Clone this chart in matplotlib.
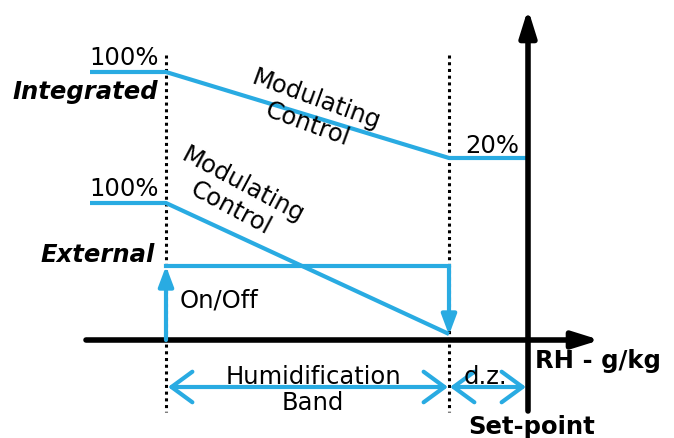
import matplotlib.pyplot as plt

# Diagram breakpoints (pixel space of the original drawing, y grows downward)
band_x = [166, 449]          # humidification band edges
setpoint_x = 528
axis_y = 341

integrated_x = [90, 166, 449, 528]
integrated_y = [73, 73, 159, 159]      # 100% -> 20%

external_x = [90, 166, 449]
external_y = [204, 204, 335]           # 100% -> 0%

onoff_level = 267

blue = "#29abe2"
fs = 17.5
fsb = 17.5

fig = plt.figure(figsize=(6.74, 4.39), dpi=100)
ax = fig.add_axes([0, 0, 1, 1])
ax.set_xlim(0, 674)
ax.set_ylim(439, 0)
ax.axis("off")

# dotted band edges
for x in band_x:
    ax.plot([x, x], [56, 413], color="black", lw=2.2, ls=(0, (1, 1.2)))

# main axes
ax.annotate("", xy=(600, axis_y), xytext=(86, axis_y),
            arrowprops=dict(arrowstyle="-|>,head_length=1.6,head_width=0.5",
                            color="black", lw=4, shrinkA=0, shrinkB=0))
ax.annotate("", xy=(setpoint_x, 10), xytext=(setpoint_x, 412),
            arrowprops=dict(arrowstyle="-|>,head_length=1.6,head_width=0.5",
                            color="black", lw=4, shrinkA=0, shrinkB=0))

# integrated modulating output
ax.plot(integrated_x, integrated_y, color=blue, lw=3, solid_capstyle="butt")
# external modulating output
ax.plot(external_x, external_y, color=blue, lw=3, solid_capstyle="butt")

# external on/off
ax.annotate("", xy=(band_x[0], onoff_level), xytext=(band_x[0], axis_y),
            arrowprops=dict(arrowstyle="-|>,head_length=1.2,head_width=0.45",
                            color=blue, lw=3, shrinkA=0, shrinkB=0))
ax.plot(band_x, [onoff_level, onoff_level], color=blue, lw=3)
ax.annotate("", xy=(band_x[1], 336), xytext=(band_x[1], onoff_level),
            arrowprops=dict(arrowstyle="-|>,head_length=1.2,head_width=0.45",
                            color=blue, lw=3, shrinkA=0, shrinkB=0))

# band / dead zone arrows
ax.annotate("", xy=(band_x[0] + 2, 388), xytext=(band_x[1] - 1, 388),
            arrowprops=dict(arrowstyle="<->,head_length=1.5,head_width=1.1",
                            color=blue, lw=3, shrinkA=0, shrinkB=0))
ax.annotate("", xy=(band_x[1] + 1, 388), xytext=(setpoint_x - 2, 388),
            arrowprops=dict(arrowstyle="<->,head_length=1.5,head_width=1.1",
                            color=blue, lw=3, shrinkA=0, shrinkB=0))

# texts
ax.text(159, 58, "100%", fontsize=fs, ha="right", va="center")
ax.text(158, 92, "Integrated", fontsize=fsb, ha="right", va="center",
        fontweight="bold", fontstyle="italic")
ax.text(312, 112, "Modulating\nControl", fontsize=fs, ha="center", va="center",
        rotation=-20, linespacing=1.1, rotation_mode="anchor")
ax.text(492, 146, "20%", fontsize=fs, ha="center", va="center")
ax.text(159, 189, "100%", fontsize=fs, ha="right", va="center")
ax.text(237, 197, "Modulating\nControl", fontsize=fs, ha="center", va="center",
        rotation=-28, linespacing=1.1, rotation_mode="anchor")
ax.text(155, 255, "External", fontsize=fsb, ha="right", va="center",
        fontweight="bold", fontstyle="italic")
ax.text(180, 301, "On/Off", fontsize=fs, ha="left", va="center")
ax.text(313, 390, "Humidification\nBand", fontsize=fs, ha="center", va="center",
        linespacing=1.1)
ax.text(485, 377, "d.z.", fontsize=fs, ha="center", va="center")
ax.text(535, 361, "RH - g/kg", fontsize=fsb, ha="left", va="center",
        fontweight="bold")
ax.text(532, 427, "Set-point", fontsize=fsb, ha="center", va="center",
        fontweight="bold")

fig.savefig("out.png", dpi=100)
